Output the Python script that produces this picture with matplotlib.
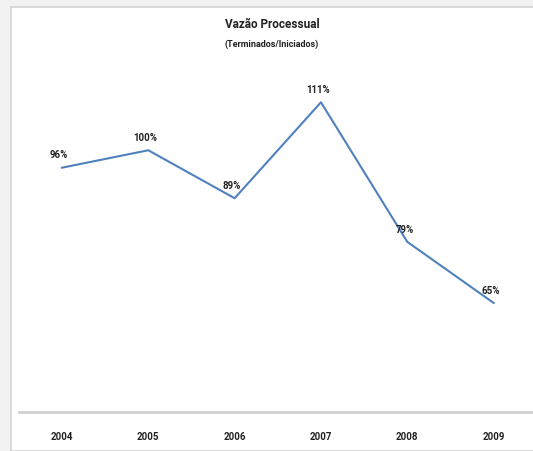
import matplotlib
matplotlib.use('Agg')
import matplotlib.pyplot as plt
from matplotlib.patches import Rectangle

years = ['2004', '2005', '2006', '2007', '2008', '2009']
vazao = [96, 100, 89, 111, 79, 65]
labels = ['96%', '100%', '89%', '111%', '79%', '65%']

plt.rcParams['font.family'] = ['Liberation Sans Narrow', 'Roboto', 'DejaVu Sans']

W, H = 533, 452
fig = plt.figure(figsize=(W / 100, H / 100), dpi=100, facecolor='#f2f2f2')

# white chart area with thin gray frame (behind the axes)
fig.patches.append(Rectangle((11 / W, 0), 1, 1 - 8 / H, transform=fig.transFigure,
                             facecolor='white', edgecolor='#d4d4d4', linewidth=1.2,
                             zorder=-1))

ax = fig.add_axes([18.8 / W, 39 / H, 518 / W, 349 / H])
ax.set_facecolor('none')
x = range(len(years))
ax.plot(x, vazao, color='#4f81bd', linewidth=1.5)
for i, (v, lab) in enumerate(zip(vazao, labels)):
    ax.annotate(lab, (i, v), xytext=(-2, 6), textcoords='offset points',
                ha='center', va='bottom', fontsize=7, fontweight='bold', color='#222222')

ax.set_xlim(-0.5, 5.5)
ax.set_ylim(40, 120)
ax.set_xticks(list(x))
ax.set_xticklabels(years, fontsize=7, fontweight='bold', color='#222222')
ax.set_yticks([])
ax.tick_params(axis='x', length=0, pad=14)
for s in ['top', 'right', 'left']:
    ax.spines[s].set_visible(False)
ax.spines['bottom'].set_color('#d0d0d0')
ax.spines['bottom'].set_linewidth(2)

fig.text(272 / W, 1 - 25 / H, 'Vazão Processual', ha='center', va='center',
         fontsize=8.5, fontweight='bold', color='#222222')
fig.text(272 / W, 1 - 44 / H, '(Terminados/Iniciados)', ha='center', va='center',
         fontsize=6.5, fontweight='bold', color='#222222')

fig.savefig('out.png', dpi=100, facecolor=fig.get_facecolor())
